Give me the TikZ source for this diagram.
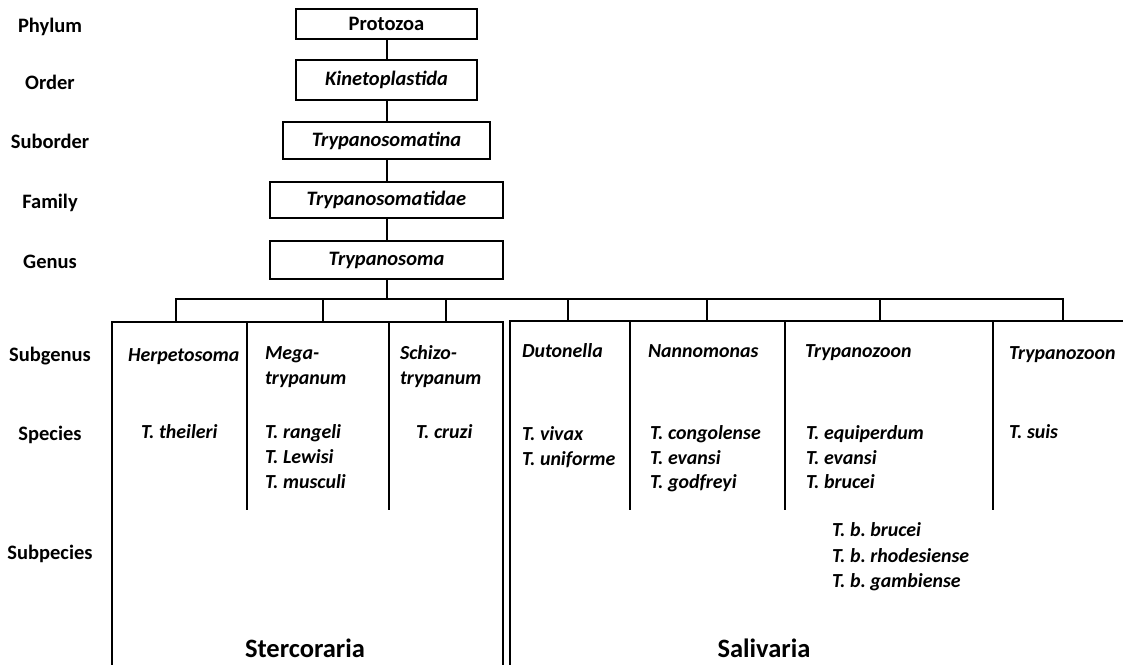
\documentclass[tikz,border=0pt]{standalone}
\usepackage{fontspec}
\setmainfont{Carlito}
\frenchspacing
\begin{document}
\begin{tikzpicture}[x=1pt,y=-1pt,line width=2pt,
  box/.style={draw,line width=2pt,inner sep=0pt,font=\bfseries\itshape\fontsize{20.5}{24}\selectfont},
  rank/.style={anchor=base,inner sep=0pt,font=\bfseries\fontsize{20.5}{24}\selectfont},
  taxon/.style={anchor=base west,inner sep=0pt,font=\frenchspacing\bfseries\itshape\fontsize{19.9}{24}\selectfont},
  group/.style={anchor=base,inner sep=0pt,font=\bfseries\fontsize{26.5}{30}\selectfont},
  conn/.style={draw,line width=2pt}]
\useasboundingbox (0,0) rectangle (1123,664);
\clip (0,0) rectangle (1123,664);
% rank labels
\node[rank] (lphy) at (50,32.5) {Phylum};
\node[rank] (lord) at (50,89.5) {Order};
\node[rank] (lsub) at (50,148.5) {Suborder};
\node[rank] (lfam) at (50,208.5) {Family};
\node[rank] (lgen) at (50,268.5) {Genus};
\node[rank] (lsg) at (50,361.5) {Subgenus};
\node[rank] (lsp) at (50,440.5) {Species};
\node[rank] (lssp) at (50,559.5) {Subpecies};
% hierarchy boxes
\node[box,font=\bfseries\fontsize{20.5}{24}\selectfont,minimum width=181pt,minimum height=30pt] (phy) at (386.5,24) {Protozoa};
\node[box,minimum width=181pt,minimum height=40pt] (ord) at (386.5,80) {Kinetoplastida};
\node[box,minimum width=207pt,minimum height=37pt] (sub) at (386.5,140.5) {Trypanosomatina};
\node[box,minimum width=233pt,minimum height=36pt] (fam) at (386.5,200) {Trypanosomatidae};
\node[box,minimum width=233pt,minimum height=38pt] (gen) at (386.5,260) {Trypanosoma};
\draw[conn] (phy.south) -- (ord.north);
\draw[conn] (ord.south) -- (sub.north);
\draw[conn] (sub.south) -- (fam.north);
\draw[conn] (fam.south) -- (gen.north);
% bus
\coordinate (bus) at (386.5,299);
\coordinate (b1) at (176,322);
\coordinate (b2) at (323,322);
\coordinate (b3) at (446,322);
\coordinate (b4) at (568,321);
\coordinate (b5) at (707,321);
\coordinate (b6) at (880,321);
\coordinate (b7) at (1063,321);
\draw[conn] (gen.south) -- (bus);
\draw[conn] (b1) -- (b1 |- bus) -- (b7 |- bus) -- (b7);
\foreach \c in {b2,b3,b4,b5,b6} \draw[conn] (\c) -- (\c |- bus);
% group frames
\draw[conn] (112,680) -- (112,322) -- (503,322) -- (503,680);
\draw[conn] (510,680) -- (510,321) -- (1140,321);
\draw[conn] (247,322) -- (247,510);
\draw[conn] (389,322) -- (389,510);
\draw[conn] (630,321) -- (630,510);
\draw[conn] (785,321) -- (785,510);
\draw[conn] (993,321) -- (993,510);
% subgenera
\node[taxon] (herp) at (127,361.5) {Herpetosoma};
\node[taxon] (mega1) at (264,359.5) {Mega-};
\node[taxon] (mega2) at (264,384.5) {trypanum};
\node[taxon] (schi1) at (399,359.5) {Schizo-};
\node[taxon] (schi2) at (399,384.5) {trypanum};
\node[taxon] (duto) at (521,357.5) {Dutonella};
\node[taxon] (nann) at (647,357.5) {Nannomonas};
\node[taxon] (tryz1) at (804,357.5) {Trypanozoon};
\node[taxon] (tryz2) at (1008,359.5) {Trypanozoon};
% species
\node[taxon] (s1) at (140,438.5) {T. theileri};
\node[taxon] (s2) at (264,438.5) {T. rangeli};
\node[taxon] (s3) at (264,463.5) {T. Lewisi};
\node[taxon] (s4) at (264,488.5) {T. musculi};
\node[taxon] (s5) at (415,438.5) {T. cruzi};
\node[taxon] (s6) at (521,440.5) {T. vivax};
\node[taxon] (s7) at (521,465.5) {T. uniforme};
\node[taxon] (s8) at (649,439.5) {T. congolense};
\node[taxon] (s9) at (649,464.5) {T. evansi};
\node[taxon] (s10) at (649,488.5) {T. godfreyi};
\node[taxon] (s11) at (805,439.5) {T. equiperdum};
\node[taxon] (s12) at (805,464.5) {T. evansi};
\node[taxon] (s13) at (805,488.5) {T. brucei};
\node[taxon] (s14) at (1008,438.5) {T. suis};
% subspecies
\node[taxon] (ss1) at (831,536.5) {T. b. brucei};
\node[taxon] (ss2) at (831,562.5) {T. b. rhodesiense};
\node[taxon] (ss3) at (831,587.5) {T. b. gambiense};
% groups
\node[group] (ster) at (305,657) {Stercoraria};
\node[group] (sali) at (764,657) {Salivaria};
\end{tikzpicture}
\end{document}
